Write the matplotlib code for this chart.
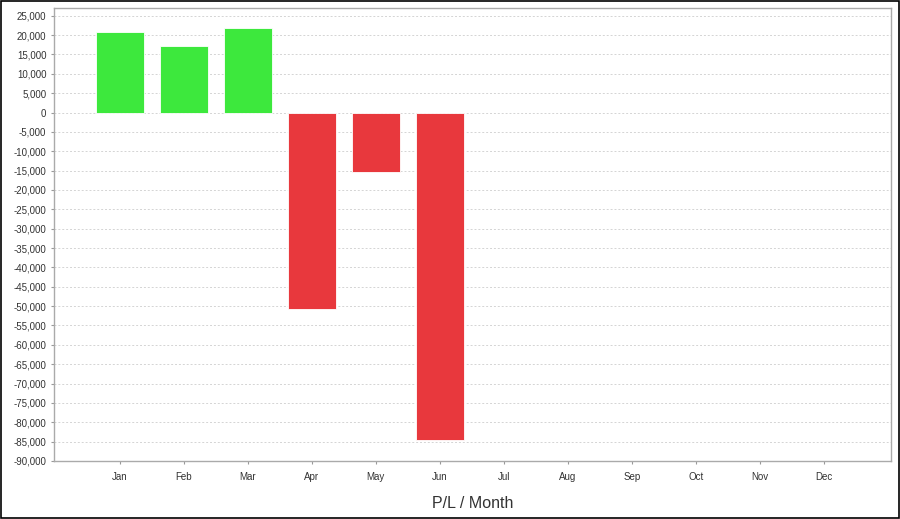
import matplotlib
matplotlib.use('Agg')
import matplotlib.pyplot as plt
from matplotlib.ticker import FuncFormatter, MultipleLocator
from matplotlib.patches import Rectangle

months = ['Jan', 'Feb', 'Mar', 'Apr', 'May', 'Jun', 'Jul', 'Aug', 'Sep', 'Oct', 'Nov', 'Dec']
pnl = [20700, 17100, 21800, -50700, -15300, -84600]

green = '#3de83d'
red = '#e8383d'

plt.rcParams['font.family'] = ['Liberation Sans', 'DejaVu Sans']

fig = plt.figure(figsize=(9, 5.19), dpi=100)
fig.patch.set_facecolor('white')
fig.patches.append(Rectangle((0.001, 0.002), 0.998, 0.996, transform=fig.transFigure,
                             fill=False, edgecolor='black', linewidth=1.2))

ax = fig.add_axes([0.06, 0.1118, 0.93, 0.8728])
x = list(range(len(months)))
colors = [green if v >= 0 else red for v in pnl]
ax.bar(x[:len(pnl)], pnl, width=0.75, color=colors, edgecolor='white', linewidth=0.6, zorder=3)

ax.set_xlim(-1.03, 12.05)
ax.set_ylim(-90000, 27000)
ax.yaxis.set_major_locator(MultipleLocator(5000))
ax.yaxis.set_major_formatter(FuncFormatter(lambda v, p: '{:,.0f}'.format(v)))
ax.set_xticks(x)
ax.set_xticklabels(months)

ax.grid(axis='y', color='#d4d4d4', linestyle=(0, (2, 2)), linewidth=0.7, zorder=0)
ax.tick_params(axis='both', labelsize=7, colors='#999999', labelcolor='#333333', length=2, width=0.8)
ax.tick_params(axis='x', pad=6)
for s in ax.spines.values():
    s.set_color('#aaaaaa')
    s.set_linewidth(1)

ax.set_xlabel('P/L / Month', fontsize=11.5, color='#333333', labelpad=10)

fig.savefig('out.png', dpi=100)
